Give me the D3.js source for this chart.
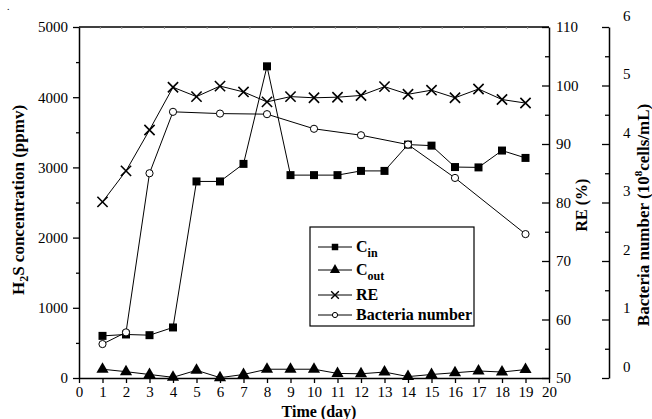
<!DOCTYPE html>
<html>
<head>
<meta charset="utf-8">
<script src="https://cdn.jsdelivr.net/npm/d3@7"></script>
<style>
  body { margin: 0; background: #fff; }
  text { font-family: "Liberation Serif", "Times New Roman", serif; }
</style>
</head>
<body>
<script>
// data
var days = [1, 2, 3, 4, 5, 6, 7, 8, 9, 10, 11, 12, 13, 14, 15, 16, 17, 18, 19];
var cIn = [600, 620, 610, 720, 2800, 2800, 3050, 4440, 2890, 2890, 2890, 2950, 2950, 3325, 3310, 3005, 3000, 3240, 3135];
var cOut = [125, 90, 50, 10, 110, 5, 50, 125, 125, 125, 65, 60, 85, 20, 50, 75, 100, 85, 120];
var re = [80.1, 85.4, 92.4, 99.7, 98.1, 99.9, 98.9, 97.2, 98.1, 97.9, 98.0, 98.3, 99.8, 98.5, 99.2, 97.9, 99.4, 97.6, 97.0];
var bacDays = [1, 2, 3, 4, 6, 8, 10, 12, 14, 16, 19];
var bacteria = [0.58, 0.78, 3.5, 4.55, 4.52, 4.51, 4.26, 4.15, 3.99, 3.42, 2.46];

var xTicks = d3.range(0, 21);
var leftTicks = [0, 1000, 2000, 3000, 4000, 5000];
var reTicks = [50, 60, 70, 80, 90, 100, 110];
var bacTicks = [0, 1, 2, 3, 4, 5, 6];

var svgWidth = 652;
var svgHeight = 419;

var svg = d3.select("body")
  .append("svg")
  .attr("width", svgWidth)
  .attr("height", svgHeight);

// plot box
var plotLeft = 79, plotRight = 549, plotTop = 27, plotBottom = 378;
var bacAxisX = 609;

var x = d3.scaleLinear().domain([0, 20]).range([plotLeft, plotRight]);
var yLeft = d3.scaleLinear().domain([0, 5000]).range([plotBottom, plotTop]);
var yRe = d3.scaleLinear().domain([50, 110]).range([plotBottom, plotTop]);
var yBac = d3.scaleLinear().domain([0, 6]).range([plotBottom, plotTop]);

function styleAxis(g) {
  g.selectAll("path.domain").attr("stroke", "#000").attr("stroke-width", 1.5);
  g.selectAll(".tick line").attr("stroke", "#000").attr("stroke-width", 1.3);
  g.selectAll("text").attr("font-family", "Liberation Serif").attr("font-size", 15).attr("fill", "#000");
}

// top border with faint little ticks
svg.append("line")
  .attr("x1", plotLeft).attr("x2", plotRight)
  .attr("y1", plotTop).attr("y2", plotTop)
  .attr("stroke", "#000").attr("stroke-width", 1.5);
svg.selectAll(".topTick")
  .data(d3.range(1, 22))
  .enter()
  .append("line")
  .attr("x1", d => plotLeft + d * (plotRight - plotLeft) / 22)
  .attr("x2", d => plotLeft + d * (plotRight - plotLeft) / 22)
  .attr("y1", plotTop).attr("y2", plotTop + 2)
  .attr("stroke", "#999").attr("stroke-width", 1);

// bottom axis
var bottomAxis = svg.append("g")
  .attr("transform", `translate(0, ${plotBottom})`)
  .call(d3.axisBottom(x).tickValues(xTicks).tickSizeInner(5).tickSizeOuter(0).tickPadding(3));
styleAxis(bottomAxis);

// left axis (major + minor)
var leftAxis = svg.append("g")
  .attr("transform", `translate(${plotLeft}, 0)`)
  .call(d3.axisLeft(yLeft).tickValues(leftTicks).tickSizeInner(6).tickSizeOuter(0).tickPadding(5).tickFormat(d3.format("d")));
styleAxis(leftAxis);
var leftMinor = svg.append("g")
  .attr("transform", `translate(${plotLeft}, 0)`)
  .call(d3.axisLeft(yLeft).tickValues([500, 1500, 2500, 3500, 4500]).tickSize(3).tickFormat(""));
styleAxis(leftMinor);
leftMinor.select("path.domain").remove();

// RE axis on the right, ticks inward
var reAxis = svg.append("g")
  .attr("transform", `translate(${plotRight}, 0)`)
  .call(d3.axisRight(yRe).tickValues(reTicks).tickSizeInner(-7).tickSizeOuter(0).tickPadding(7));
styleAxis(reAxis);
var reMinor = svg.append("g")
  .attr("transform", `translate(${plotRight}, 0)`)
  .call(d3.axisRight(yRe).tickValues([55, 65, 75, 85, 95, 105]).tickSize(-4).tickFormat(""));
styleAxis(reMinor);
reMinor.select("path.domain").remove();

// bacteria axis, offset further right (its labels sit a bit above the ticks)
var bacAxis = svg.append("g")
  .attr("transform", `translate(${bacAxisX}, 0)`)
  .call(d3.axisRight(yBac).tickValues(bacTicks).tickSizeInner(-7).tickSizeOuter(0).tickPadding(14).tickFormat(d3.format("d")));
styleAxis(bacAxis);
bacAxis.selectAll("text").attr("dy", "-0.45em");
var bacMinor = svg.append("g")
  .attr("transform", `translate(${bacAxisX}, 0)`)
  .call(d3.axisRight(yBac).tickValues([0.5, 1.5, 2.5, 3.5, 4.5, 5.5]).tickSize(-4).tickFormat(""));
styleAxis(bacMinor);
bacMinor.select("path.domain").remove();

// series lines
var lineIn = d3.line().x((d, i) => x(days[i])).y(d => yLeft(d));
var lineRe = d3.line().x((d, i) => x(days[i])).y(d => yRe(d));
var lineBac = d3.line().x((d, i) => x(bacDays[i])).y(d => yBac(d));

[[cIn, lineIn], [cOut, lineIn], [re, lineRe], [bacteria, lineBac]].forEach(function(s) {
  svg.append("path")
    .attr("d", s[1](s[0]))
    .attr("fill", "none")
    .attr("stroke", "#000")
    .attr("stroke-width", 1);
});

// markers
var sq = d3.symbol().type(d3.symbolSquare).size(64);
var tri = d3.symbol().type(d3.symbolTriangle).size(64);
var cross = d3.symbol().type(d3.symbolX).size(70);

svg.selectAll(".cin")
  .data(cIn)
  .enter()
  .append("path")
  .attr("d", sq)
  .attr("transform", (d, i) => `translate(${x(days[i])}, ${yLeft(d)})`)
  .attr("fill", "#000");

svg.selectAll(".cout")
  .data(cOut)
  .enter()
  .append("path")
  .attr("d", tri)
  .attr("transform", (d, i) => `translate(${x(days[i])}, ${yLeft(d)})`)
  .attr("fill", "#000");

svg.selectAll(".re")
  .data(re)
  .enter()
  .append("path")
  .attr("d", cross)
  .attr("transform", (d, i) => `translate(${x(days[i])}, ${yRe(d)})`)
  .attr("fill", "none")
  .attr("stroke", "#000")
  .attr("stroke-width", 1.6);

svg.selectAll(".bac")
  .data(bacteria)
  .enter()
  .append("circle")
  .attr("cx", (d, i) => x(bacDays[i]))
  .attr("cy", d => yBac(d))
  .attr("r", 3.6)
  .attr("fill", "#fff")
  .attr("stroke", "#000")
  .attr("stroke-width", 1);

// axis titles
var leftTitle = svg.append("text")
  .attr("transform", "translate(24, 200) rotate(-90)")
  .attr("text-anchor", "middle")
  .attr("font-weight", "bold")
  .attr("font-size", 17);
leftTitle.append("tspan").text("H");
leftTitle.append("tspan").attr("font-size", 12).attr("dy", 4).text("2");
leftTitle.append("tspan").attr("dy", -4).text("S concentration (ppmv)");

svg.append("text")
  .attr("x", 319)
  .attr("y", 417)
  .attr("text-anchor", "middle")
  .attr("font-weight", "bold")
  .attr("font-size", 16)
  .text("Time (day)");

svg.append("text")
  .attr("transform", "translate(587, 205) rotate(-90)")
  .attr("text-anchor", "middle")
  .attr("font-weight", "bold")
  .attr("font-size", 16)
  .text("RE (%)");

var bacTitle = svg.append("text")
  .attr("transform", "translate(649, 215) rotate(-90)")
  .attr("text-anchor", "middle")
  .attr("font-weight", "bold")
  .attr("font-size", 17);
bacTitle.append("tspan").text("Bacteria number (10");
bacTitle.append("tspan").attr("font-size", 11).attr("dy", -7).text("8");
bacTitle.append("tspan").attr("dy", 7).text("cells/mL)");

// legend
var legend = svg.append("g");
legend.append("rect")
  .attr("x", 310).attr("y", 227)
  .attr("width", 164).attr("height", 99)
  .attr("fill", "#fff")
  .attr("stroke", "#000")
  .attr("stroke-width", 1.2);

var legendNames = [["C", "in"], ["C", "out"], ["RE", ""], ["Bacteria number", ""]];
var legendY = [247, 270, 295, 315];
var legendMarks = [
  d3.symbol().type(d3.symbolSquare).size(42),
  d3.symbol().type(d3.symbolTriangle).size(45),
  d3.symbol().type(d3.symbolX).size(40),
  null
];

legendNames.forEach(function(name, i) {
  var yy = legendY[i];
  legend.append("line")
    .attr("x1", 318).attr("x2", 352)
    .attr("y1", yy).attr("y2", yy)
    .attr("stroke", "#000").attr("stroke-width", 1);
  if (legendMarks[i]) {
    legend.append("path")
      .attr("d", legendMarks[i])
      .attr("transform", `translate(335, ${yy})`)
      .attr("fill", i === 2 ? "none" : "#000")
      .attr("stroke", i === 2 ? "#000" : "none")
      .attr("stroke-width", 1.4);
  } else {
    legend.append("circle")
      .attr("cx", 335).attr("cy", yy).attr("r", 2.6)
      .attr("fill", "#fff").attr("stroke", "#000");
  }
  var t = legend.append("text")
    .attr("x", 356)
    .attr("y", yy + 5)
    .attr("font-weight", "bold")
    .attr("font-size", 16);
  t.append("tspan").text(name[0]);
  if (name[1]) {
    t.append("tspan").attr("font-size", 12).attr("dy", 5).text(name[1]);
  }
});

// stray dot in the corner of the original
svg.append("text")
  .attr("x", 7).attr("y", 10)
  .attr("font-size", 10)
  .text(".");
</script>
</body>
</html>
